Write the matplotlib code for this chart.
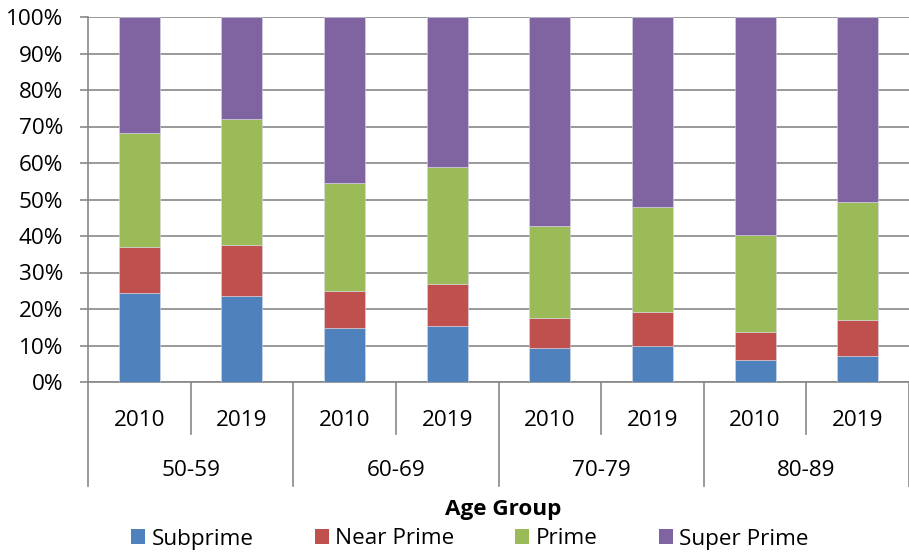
import matplotlib
matplotlib.use("Agg")
import matplotlib.pyplot as plt
from matplotlib.patches import Patch
import matplotlib.transforms as mtransforms
import numpy as np

plt.rcParams['font.family'] = ['Open Sans', 'DejaVu Sans']

age_groups = ["50-59", "60-69", "70-79", "80-89"]
years = ["2010", "2019"]
series_names = ["Subprime", "Near Prime", "Prime", "Super Prime"]
colors = ["#4F81BD", "#C0504D", "#9BBB59", "#8064A2"]

# segment values (percent), bar order: 50-59 2010, 50-59 2019, 60-69 2010, ...
subprime = [24.5, 23.5, 14.7, 15.3, 9.2, 9.8, 6.0, 7.1]
near_prime = [12.6, 14.1, 10.3, 11.5, 8.3, 9.3, 7.6, 9.8]
prime = [31.1, 34.5, 29.6, 32.2, 25.2, 28.9, 26.8, 32.3]
super_prime = [100 - a - b - c for a, b, c in zip(subprime, near_prime, prime)]

data = [subprime, near_prime, prime, super_prime]

FS = 16.2

W, H = 909, 556
fig = plt.figure(figsize=(W / 100, H / 100), dpi=100)
ax = fig.add_axes([88 / W, (H - 382) / H, (909 - 88) / W, 365 / H])

x = np.arange(len(subprime))
bottom = np.zeros(len(x))
for vals, col, name in zip(data, colors, series_names):
    ax.bar(x, vals, bottom=bottom, width=0.4, color=col, edgecolor='#d9d9e6',
           linewidth=0.4, label=name, zorder=3)
    bottom += np.array(vals)

ax.set_xlim(-0.5, 7.5)
ax.set_ylim(0, 100)
ax.set_yticks(np.arange(0, 101, 10))
ax.set_yticklabels([f"{v}%" for v in range(0, 101, 10)], fontsize=FS)
ax.yaxis.grid(True, color='#878787', linewidth=1.2, zorder=0)
ax.set_axisbelow(True)
ax.tick_params(axis='y', length=6, width=1.2, color='#878787', pad=12)
ax.set_xticks([])
for s in ['top', 'right']:
    ax.spines[s].set_visible(False)
for s in ['left', 'bottom']:
    ax.spines[s].set_color('#878787')
    ax.spines[s].set_linewidth(1.2)

trans = mtransforms.blended_transform_factory(ax.transData, ax.transAxes)
short = 52 / 365
long_ = 104 / 365
for i in range(len(x) + 1):
    pos = i - 0.5
    depth = long_ if i % 2 == 0 else short
    ax.plot([pos, pos], [0, -depth], transform=trans, color='#878787',
            linewidth=1.2, clip_on=False)

for i in range(len(x)):
    ax.text(i, -38 / 365, years[i % 2], transform=trans, ha='center', va='center',
            fontsize=FS)
for g, name in enumerate(age_groups):
    ax.text(2 * g + 0.5, -88 / 365, name, transform=trans, ha='center', va='center',
            fontsize=FS)

fig.text(503 / W, 1 - 510 / H, "Age Group", ha='center', va='center',
         fontsize=FS, fontweight='bold')

handles = [Patch(facecolor=c, edgecolor='none') for c in colors]
fig.legend(handles, series_names, loc='center', bbox_to_anchor=(470 / W, 1 - 539 / H),
           ncol=4, frameon=False, fontsize=FS, handlelength=0.62, handleheight=0.62,
           handletextpad=0.3, columnspacing=2.7, borderpad=0, borderaxespad=0)

fig.savefig("out.png", dpi=100)
